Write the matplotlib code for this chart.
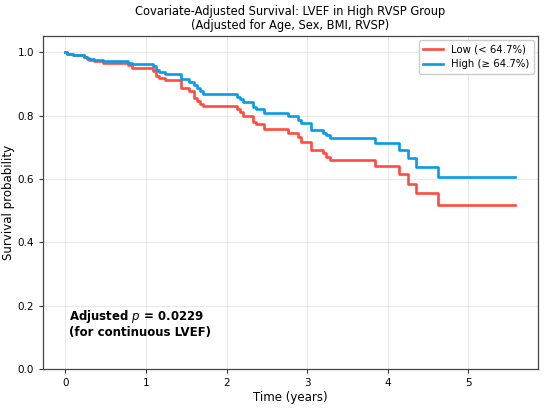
import matplotlib
matplotlib.use("Agg")
import matplotlib.pyplot as plt

# ---------------- DATA ----------------
# shared event times (years) of the adjusted survival curves
event_times = [0.0, 0.02, 0.09, 0.23, 0.27, 0.29, 0.35, 0.47, 0.78, 0.82,
               1.09, 1.12, 1.16, 1.24, 1.43, 1.53, 1.59, 1.63, 1.67, 1.71,
               2.13, 2.17, 2.21, 2.33, 2.37, 2.47, 2.76, 2.89, 2.93, 3.05,
               3.20, 3.24, 3.28, 3.84, 4.14, 4.25, 4.35, 4.63, 5.585]

surv_high = [1.000, 0.995, 0.991, 0.986, 0.981, 0.978, 0.976, 0.971, 0.967, 0.962,
             0.955, 0.944, 0.937, 0.930, 0.916, 0.905, 0.895, 0.886, 0.878, 0.868,
             0.860, 0.852, 0.844, 0.827, 0.820, 0.808, 0.798, 0.787, 0.776, 0.755,
             0.746, 0.739, 0.729, 0.715, 0.690, 0.666, 0.639, 0.607, 0.607]

surv_low = [1.000, 0.995, 0.991, 0.985, 0.980, 0.976, 0.973, 0.965, 0.958, 0.950,
            0.940, 0.925, 0.918, 0.911, 0.886, 0.877, 0.857, 0.846, 0.836, 0.831,
            0.821, 0.811, 0.799, 0.779, 0.775, 0.757, 0.744, 0.731, 0.718, 0.692,
            0.681, 0.669, 0.660, 0.641, 0.615, 0.584, 0.555, 0.518, 0.518]

label_low = "Low (< 64.7%)"
label_high = "High (\u2265 64.7%)"
title = "Covariate-Adjusted Survival: LVEF in High RVSP Group\n(Adjusted for Age, Sex, BMI, RVSP)"
p_text = "Adjusted $\\mathit{p}$ = 0.0229\n(for continuous LVEF)"

# ---------------- PLOT ----------------
fig = plt.figure(figsize=(5.5, 4.08), dpi=100)
ax = fig.add_axes([0.078, 0.095, 0.900, 0.816])

ax.step(event_times, surv_low, where="post", color="#FF4B3F", lw=1.9, label=label_low)
ax.step(event_times, surv_high, where="post", color="#0A9BE6", lw=1.9, label=label_high)

ax.set_ylim(0, 1.05)
ax.set_xlim(-0.28, 5.865)
ax.set_xticks([0, 1, 2, 3, 4, 5])
ax.set_yticks([0.0, 0.2, 0.4, 0.6, 0.8, 1.0])
ax.grid(True, color="#DDDDDD", lw=0.6, alpha=0.8)
ax.tick_params(labelsize=7.5, length=3, color="#333333")
for s in ax.spines.values():
    s.set_color("#444444")
    s.set_linewidth(0.9)

ax.set_xlabel("Time (years)", fontsize=8.5, labelpad=2)
ax.set_ylabel("Survival probability", fontsize=8.5, labelpad=2)
ax.set_title(title, fontsize=8.3, pad=5, linespacing=1.1)

ax.legend(loc="upper right", fontsize=7.3, frameon=True, framealpha=1,
          edgecolor="#CCCCCC", fancybox=True, handlelength=2.0,
          borderaxespad=0.4)

ax.text(0.052, 0.09, p_text, transform=ax.transAxes, fontsize=8.5,
        fontweight="bold", va="bottom", ha="left", linespacing=1.15)

fig.savefig("out.png", dpi=100)
